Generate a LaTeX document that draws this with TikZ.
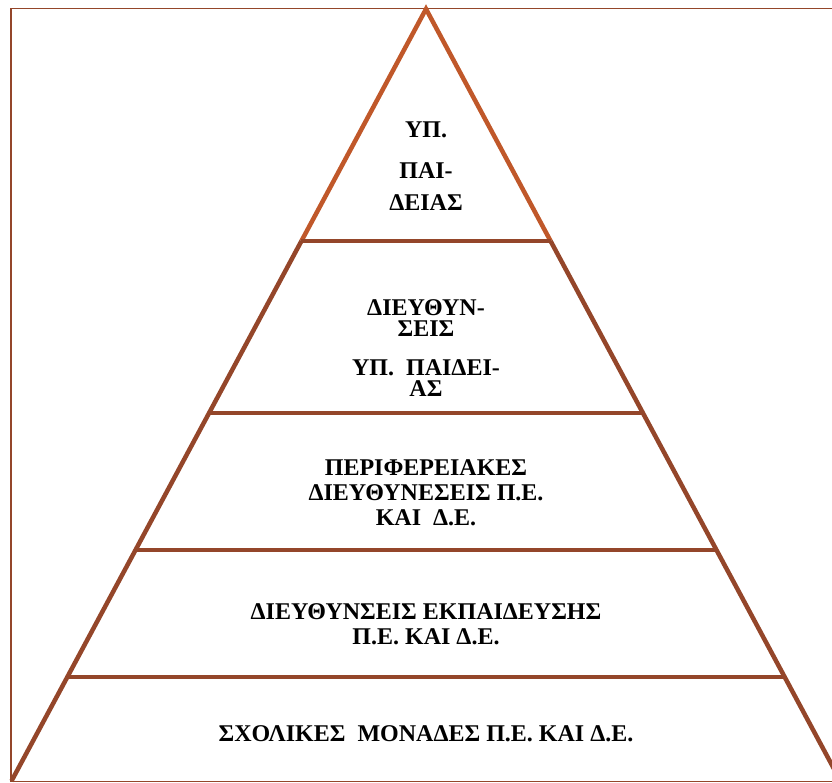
\documentclass[tikz,border=0pt]{standalone}
\usepackage{fontspec}
\setmainfont{Liberation Serif}
\usetikzlibrary{calc}
\definecolor{topline}{HTML}{C0582A}
\definecolor{brownline}{HTML}{94462A}
\tikzset{lvl/.style={anchor=north, align=center, inner sep=0pt, font=\fontsize{24}{24}\selectfont\bfseries}}
\begin{document}
\begin{tikzpicture}[x=1pt,y=-1pt]
\useasboundingbox (0,0) rectangle (832,783);
\clip (0,0) rectangle (832,783);
\draw[brownline, line width=1.5pt] (850,8.5) -- (11,8.5) -- (11,781.5) -- (850,781.5);
\coordinate (apex) at (426,9);
\coordinate (bl) at (11.5,781);
\coordinate (br) at (840.5,781);
\coordinate (l1) at ($(apex)!0.3005!(bl)$);
\coordinate (r1) at ($(apex)!0.3005!(br)$);
\coordinate (l2) at ($(apex)!0.523!(bl)$);
\coordinate (r2) at ($(apex)!0.523!(br)$);
\coordinate (l3) at ($(apex)!0.701!(bl)$);
\coordinate (r3) at ($(apex)!0.701!(br)$);
\coordinate (l4) at ($(apex)!0.865!(bl)$);
\coordinate (r4) at ($(apex)!0.865!(br)$);
\draw[topline, line width=4.5pt, line join=miter] (l1) -- (apex) -- (r1);
\draw[brownline, line width=4.5pt] (l1) -- (bl);
\draw[brownline, line width=4.5pt] (r1) -- (br);
\draw[brownline, line width=4pt] (l1) -- (r1);
\draw[brownline, line width=4pt] (l2) -- (r2);
\draw[brownline, line width=4pt] (l3) -- (r3);
\draw[brownline, line width=4pt] (l4) -- (r4);

\node[lvl] (lvl1) at (426,122) {ΥΠ.\\[17pt]ΠΑΙ-\\[8pt]ΔΕΙΑΣ};
\node[lvl, font=\fontsize{24}{21.5}\selectfont\bfseries] (lvl2) at (426,299) {ΔΙΕΥΘΥΝ-\\ΣΕΙΣ\\[17pt]ΥΠ.~~ΠΑΙΔΕΙ-\\ΑΣ};
\node[lvl, font=\fontsize{24}{25}\selectfont\bfseries] (lvl3) at (426,459) {ΠΕΡΙΦΕΡΕΙΑΚΕΣ\\ΔΙΕΥΘΥΝΕΣΕΙΣ Π.Ε.\\ΚΑΙ~~Δ.Ε.};
\node[lvl, font=\fontsize{24}{25}\selectfont\bfseries] (lvl4) at (426,603) {ΔΙΕΥΘΥΝΣΕΙΣ ΕΚΠΑΙΔΕΥΣΗΣ\\Π.Ε. ΚΑΙ Δ.Ε.};
\node[lvl] (lvl5) at (426,725) {ΣΧΟΛΙΚΕΣ~~ΜΟΝΑΔΕΣ Π.Ε. ΚΑΙ Δ.Ε.};
\end{tikzpicture}
\end{document}
